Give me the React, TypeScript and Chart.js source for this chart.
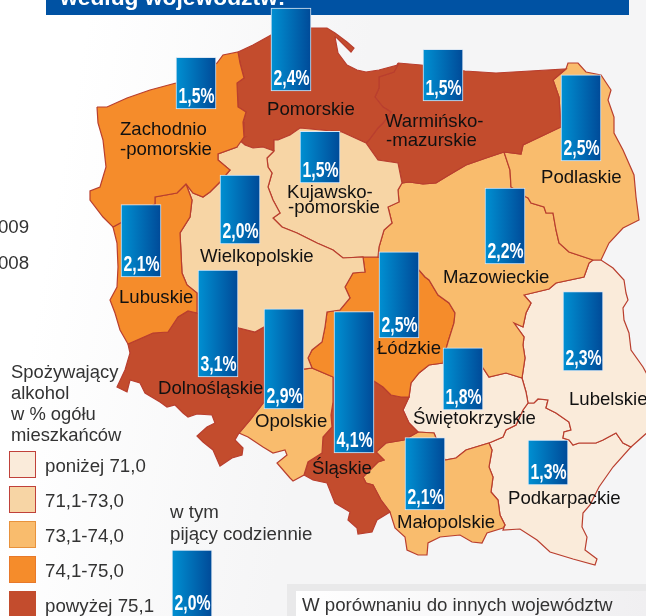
import React, { useEffect, useRef } from "react";
import { Chart, registerables } from "chart.js";

Chart.register(...registerables);

type P = [number, number];

// ---- data ----
const regionNames = [
  "Zachodnio\n-pomorskie", "Pomorskie", "Warmińsko-\n-mazurskie", "Podlaskie", "Kujawsko-\n-pomorskie",
  "Wielkopolskie", "Lubuskie", "Mazowieckie", "Łódzkie", "Dolnośląskie", "Opolskie", "Śląskie",
  "Świętokrzyskie", "Lubelskie", "Podkarpackie", "Małopolskie",
];
const dailyDrinkers = [1.5, 2.4, 1.5, 2.5, 1.5, 2.0, 2.1, 2.2, 2.5, 3.1, 2.9, 4.1, 1.8, 2.3, 1.3, 2.1];
const legendExampleValue = 2.0;
const legendTitle = ["Spożywający", "alkohol", "w % ogółu", "mieszkańców"];
const legendClasses = ["poniżej 71,0", "71,1-73,0", "73,1-74,0", "74,1-75,0", "powyżej 75,1"];
const legendColors = ["#FAEBDA", "#F7D5A5", "#F9BC6D", "#F58C2B", "#C34C2D"];
const legendBorders = ["#C0413A", "#C0413A", "#E8923C", "#E8792A", "#C34C2D"];
const legendBarCaption = ["w tym", "pijący codziennie"];
const headerText = "według województw:";
const noteText = "W porównaniu do innych województw";
const yearFragments = ["2009", "2008"];

// ---- map outlines ----
const zachodniopomorskie: P[] = [[97,107],[107,107],[127,98],[150,90],[176,83],[217,63],[223,55],[238,52],[240,63],[244,78],[237,83],[238,107],[246,112],[243,122],[244,137],[237,147],[218,154],[218,160],[230,170],[220,182],[210,192],[203,197],[193,193],[186,184],[177,193],[155,197],[155,204],[113,227],[103,217],[90,200],[90,191],[100,187],[106,167],[103,140],[98,123]];
const lubuskie: P[] = [[155,197],[177,193],[186,184],[192,200],[190,217],[180,233],[182,273],[187,285],[197,293],[197,313],[188,311],[178,317],[168,332],[153,333],[128,344],[120,330],[115,313],[110,300],[117,287],[118,267],[117,243],[113,227],[155,204]];
const wielkopolskie: P[] = [[218,154],[237,147],[238,139],[245,145],[253,148],[263,147],[274,151],[267,158],[268,167],[272,173],[268,187],[273,200],[280,213],[273,218],[282,227],[297,233],[317,243],[333,250],[343,258],[363,257],[365,272],[353,273],[345,287],[350,298],[340,310],[327,312],[325,327],[322,342],[312,350],[308,358],[312,368],[304,369],[264,327],[255,332],[239,328],[197,313],[197,293],[187,285],[182,273],[180,233],[190,217],[192,200],[186,184],[193,193],[203,197],[210,192],[220,182],[230,170],[218,160]];
const kujawskopomorskie: P[] = [[274,151],[274,140],[278,140],[290,135],[300,128],[342,132],[366,143],[378,160],[398,163],[402,183],[398,190],[399,202],[388,207],[392,223],[384,230],[379,247],[378,257],[363,257],[343,258],[333,250],[317,243],[297,233],[282,227],[273,218],[280,213],[273,200],[268,187],[272,173],[268,167],[267,158]];
const pomorskie: P[] = [[238,52],[253,45],[271,35],[311,28],[327,28],[335,33],[347,42],[354,48],[351,52],[345,46],[337,38],[335,37],[338,53],[347,65],[357,70],[366,72],[379,70],[398,65],[394,72],[379,77],[379,88],[375,97],[383,107],[391,112],[383,123],[378,128],[369,140],[366,143],[342,132],[300,128],[290,135],[278,140],[274,140],[274,151],[263,147],[253,148],[245,145],[238,139],[244,137],[243,122],[246,112],[238,107],[237,83],[244,78],[240,63]];
const warminskomazurskie: P[] = [[398,63],[421,65],[465,71],[496,73],[566,69],[553,80],[559,97],[561,127],[523,145],[521,154],[504,152],[489,157],[466,165],[449,175],[436,183],[423,184],[409,182],[402,183],[398,163],[378,160],[366,143],[369,140],[378,128],[383,123],[391,112],[383,107],[375,97],[379,88],[379,77],[394,72]];
const podlaskie: P[] = [[566,69],[568,63],[578,63],[586,72],[601,75],[611,90],[608,100],[614,117],[614,133],[623,150],[634,175],[636,197],[639,220],[623,228],[609,243],[601,260],[593,260],[569,252],[559,243],[556,230],[553,213],[546,213],[544,207],[531,203],[528,198],[526,197],[511,187],[510,170],[504,152],[521,154],[523,145],[561,127],[559,97],[553,80]];
const mazowieckie: P[] = [[402,183],[409,182],[423,184],[436,183],[449,175],[466,165],[489,157],[504,152],[510,170],[511,187],[526,197],[528,198],[531,203],[544,207],[546,213],[553,213],[556,230],[559,243],[569,252],[593,260],[589,263],[584,277],[556,283],[549,289],[524,295],[531,303],[526,313],[523,327],[514,323],[524,337],[523,345],[525,358],[522,378],[506,373],[489,377],[483,368],[446,349],[448,342],[454,323],[455,313],[449,303],[438,295],[429,280],[425,277],[419,270],[378,257],[379,247],[384,230],[392,223],[388,207],[399,202],[398,190]];
const lodzkie: P[] = [[322,342],[325,327],[327,312],[340,310],[350,298],[345,287],[353,273],[365,272],[363,257],[378,257],[419,270],[425,277],[429,280],[438,295],[449,303],[455,313],[454,323],[448,342],[446,349],[443,363],[429,365],[419,373],[411,383],[409,397],[401,397],[391,395],[383,387],[374,381],[333,377],[312,368],[308,358],[312,350]];
const dolnoslaskie: P[] = [[197,313],[188,311],[178,317],[168,332],[153,333],[128,344],[130,353],[125,370],[117,387],[127,392],[130,380],[140,383],[145,393],[160,402],[167,407],[175,405],[183,413],[188,417],[197,414],[212,415],[215,423],[207,427],[197,436],[203,442],[213,450],[220,466],[232,458],[242,455],[243,448],[235,440],[239,433],[250,420],[264,402],[264,327],[255,332],[239,328]];
const opolskie: P[] = [[264,402],[250,420],[239,433],[248,437],[263,447],[273,453],[285,450],[287,455],[277,463],[290,478],[293,481],[304,475],[308,462],[322,453],[323,437],[332,427],[331,415],[333,402],[333,377],[312,368],[304,369],[264,327]];
const slaskie: P[] = [[333,377],[333,402],[331,415],[332,427],[323,437],[322,453],[308,462],[304,475],[313,480],[327,483],[335,503],[350,512],[348,520],[357,528],[358,534],[372,532],[377,520],[390,512],[381,500],[373,485],[366,483],[363,477],[367,473],[378,462],[384,460],[376,452],[386,443],[404,440],[418,432],[409,423],[403,410],[409,397],[401,397],[391,395],[383,387],[374,381]];
const malopolskie: P[] = [[386,443],[376,452],[384,460],[378,462],[367,473],[363,477],[366,483],[373,485],[381,500],[390,512],[395,528],[405,537],[407,550],[418,555],[427,555],[428,543],[440,537],[460,535],[472,542],[482,543],[487,533],[503,528],[505,525],[500,515],[498,500],[491,492],[493,477],[489,467],[492,450],[489,443],[466,450],[456,458],[445,460],[434,433],[418,432],[404,440]];
const swietokrzyskie: P[] = [[418,432],[409,423],[403,410],[409,397],[411,383],[419,373],[429,365],[443,363],[446,349],[483,368],[489,377],[506,373],[522,378],[526,392],[528,403],[523,410],[516,425],[506,430],[503,437],[489,443],[466,450],[456,458],[445,460],[434,433]];
const lubelskie: P[] = [[524,295],[549,289],[556,283],[584,277],[589,263],[593,260],[601,260],[613,268],[624,280],[626,293],[628,300],[623,308],[624,320],[629,333],[631,350],[643,367],[650,380],[650,430],[631,447],[623,443],[616,433],[603,440],[596,443],[579,443],[573,445],[569,440],[563,438],[564,432],[571,430],[569,422],[556,413],[546,408],[548,400],[538,399],[534,403],[528,403],[526,392],[522,378],[525,358],[523,345],[524,337],[514,323],[523,327],[526,313],[531,303]];
const podkarpackie: P[] = [[489,443],[503,437],[506,430],[516,425],[523,410],[528,403],[534,403],[538,399],[548,400],[546,408],[556,413],[569,422],[571,430],[564,432],[563,438],[569,440],[573,445],[579,443],[596,443],[603,440],[616,433],[623,443],[631,447],[613,467],[599,487],[590,505],[583,513],[582,527],[587,537],[585,550],[597,559],[595,565],[573,559],[550,552],[537,540],[520,529],[503,530],[505,525],[500,515],[498,500],[491,492],[493,477],[489,467],[492,450]];

const RED = "#C34C2D", ORANGE = "#F58C2B", MID = "#F9BC6D", LIGHT = "#F7D5A5", PALE = "#FAEBDA";
const regions: [P[], string][] = [
  [zachodniopomorskie, ORANGE], [lubuskie, ORANGE], [wielkopolskie, LIGHT], [kujawskopomorskie, LIGHT],
  [pomorskie, RED], [warminskomazurskie, RED], [podlaskie, MID], [mazowieckie, MID], [lodzkie, ORANGE],
  [dolnoslaskie, RED], [opolskie, MID], [slaskie, RED], [malopolskie, MID], [swietokrzyskie, PALE],
  [lubelskie, PALE], [podkarpackie, PALE],
];

// ---- layout ----
const PX_PER_PERCENT = 34.5;
const BAR_W = 40;
const barCenters = [196, 291, 443, 581, 320, 240, 141, 505, 399, 218, 284, 354, 463, 583, 548, 425, 192];
const barBottoms = [109, 91, 101, 161, 183, 244, 277, 264, 338, 377, 409, 453, 410, 371, 485, 510, 619];
const labelOrigins: P[][] = [
  [[120, 135], [120, 155]], [[267, 115]], [[385, 127], [386, 146]], [[541, 183]], [[287, 198], [288, 213]],
  [[200, 262]], [[119, 303]], [[443, 283]], [[377, 354]], [[158, 394]], [[255, 427]], [[312, 474]],
  [[413, 424]], [[569, 405]], [[508, 504]], [[397, 528]],
];

const SANS = '"Liberation Sans", Arial, sans-serif';
const NARROW = '"Liberation Sans Narrow", "Liberation Sans", Arial, sans-serif';

const toXY = (p: P[]) => [...p, p[0]].map(([x, y]) => ({ x, y }));
const pct = (v: number) => v.toFixed(1).replace(".", ",") + "%";

const overlay = {
  id: "overlay",
  beforeDatasetsDraw(chart: any) {
    const c: CanvasRenderingContext2D = chart.ctx;
    c.save();
    // header band
    c.fillStyle = "#0052A3";
    c.fillRect(46, 0, 583, 15);
    c.fillStyle = "#fff";
    c.font = `bold 22.8px ${SANS}`;
    c.textBaseline = "alphabetic";
    c.fillText(headerText, 60, 5);
    // note box
    c.fillStyle = "#E9E9EA";
    c.fillRect(287, 584, 359, 32);
    const g = c.createLinearGradient(296, 0, 646, 0);
    g.addColorStop(0, "#FFFFFF");
    g.addColorStop(1, "#F0EFF1");
    c.fillStyle = g;
    c.fillRect(296, 591, 350, 25);
    c.fillStyle = "#333";
    c.font = `18.7px ${SANS}`;
    c.fillText(noteText, 302, 611);
    // cut-off years
    yearFragments.forEach((t, i) => c.fillText(t, -12.5, i === 0 ? 233 : 269));
    // legend
    c.font = `18.4px ${SANS}`;
    legendTitle.forEach((t, i) => c.fillText(t, 11, 378 + i * 21));
    c.font = `18.7px ${SANS}`;
    legendClasses.forEach((t, i) => {
      const top = 451.5 + i * 35;
      c.fillStyle = legendColors[i];
      c.strokeStyle = legendBorders[i];
      c.lineWidth = 1;
      c.fillRect(9.5, top, 26, 26);
      c.strokeRect(9.5, top, 26, 26);
      c.fillStyle = "#333";
      c.fillText(t, 45, 472 + i * 35);
    });
    legendBarCaption.forEach((t, i) => c.fillText(t, 170, 518 + i * 22));
    c.restore();
  },
  afterDatasetsDraw(chart: any) {
    const c: CanvasRenderingContext2D = chart.ctx;
    c.save();
    c.textBaseline = "alphabetic";
    // region names
    c.fillStyle = "#111";
    c.font = `18.6px ${SANS}`;
    regionNames.forEach((name, i) => {
      name.split("\n").forEach((line, j) => {
        const [x, y] = labelOrigins[i][j];
        c.fillText(line, x, y);
      });
    });
    // value labels
    c.fillStyle = "#fff";
    c.font = `bold 22px ${NARROW}`;
    c.textAlign = "center";
    [...dailyDrinkers, legendExampleValue].forEach((v, i) => {
      c.fillText(pct(v), barCenters[i] + 0.5, barBottoms[i] - (i === 16 ? 9 : 6), 36);
    });
    c.restore();
  },
};

export default function App() {
  const ref = useRef<HTMLCanvasElement>(null);
  useEffect(() => {
    if (!ref.current) return;
    const values = [...dailyDrinkers, legendExampleValue];
    const chart = new Chart(ref.current, {
      type: "bar",
      data: {
        datasets: [
          {
            type: "bar",
            order: 0,
            label: "pijący codziennie",
            data: values.map((v, i) => ({
              x: barCenters[i],
              y: [barBottoms[i], barBottoms[i] - v * PX_PER_PERCENT],
            })),
            barThickness: BAR_W,
            borderWidth: 1,
            borderColor: "#DCE7F3",
            borderSkipped: false,
            backgroundColor: (ctx: any) => {
              const xs = ctx.chart.scales.x;
              const cx = barCenters[ctx.dataIndex];
              const x0 = xs && cx !== undefined ? xs.getPixelForValue(cx - BAR_W / 2) : NaN;
              const x1 = xs && cx !== undefined ? xs.getPixelForValue(cx + BAR_W / 2) : NaN;
              if (!Number.isFinite(x0) || !Number.isFinite(x1)) return "#0070B8";
              const g = ctx.chart.ctx.createLinearGradient(x0, 0, x1, 0);
              g.addColorStop(0, "#0090D2");
              g.addColorStop(1, "#004A98");
              return g;
            },
          } as any,
          ...regions.map(([poly, color], i) => ({
            type: "scatter",
            order: 1,
            label: regionNames[i],
            data: toXY(poly),
            showLine: true,
            fill: "shape",
            tension: 0,
            pointRadius: 0,
            borderWidth: 1.2,
            borderColor: "#B93E2E",
            backgroundColor: color,
          })) as any[],
        ],
      },
      options: {
        responsive: false,
        animation: false,
        layout: { padding: 0 },
        plugins: { legend: { display: false }, tooltip: { enabled: false } },
        scales: {
          x: { type: "linear", min: 0, max: 646, offset: false, display: false },
          y: { type: "linear", min: 0, max: 616, reverse: true, display: false },
        },
      },
      plugins: [overlay],
    } as any);
    return () => chart.destroy();
  }, []);
  return (
    <canvas
      ref={ref}
      width={646}
      height={616}
      style={{
        position: "absolute",
        left: 0,
        top: 0,
        display: "block",
        background: "linear-gradient(100deg, #ffffff 12%, #f5f5f6 50%)",
      }}
    />
  );
}
